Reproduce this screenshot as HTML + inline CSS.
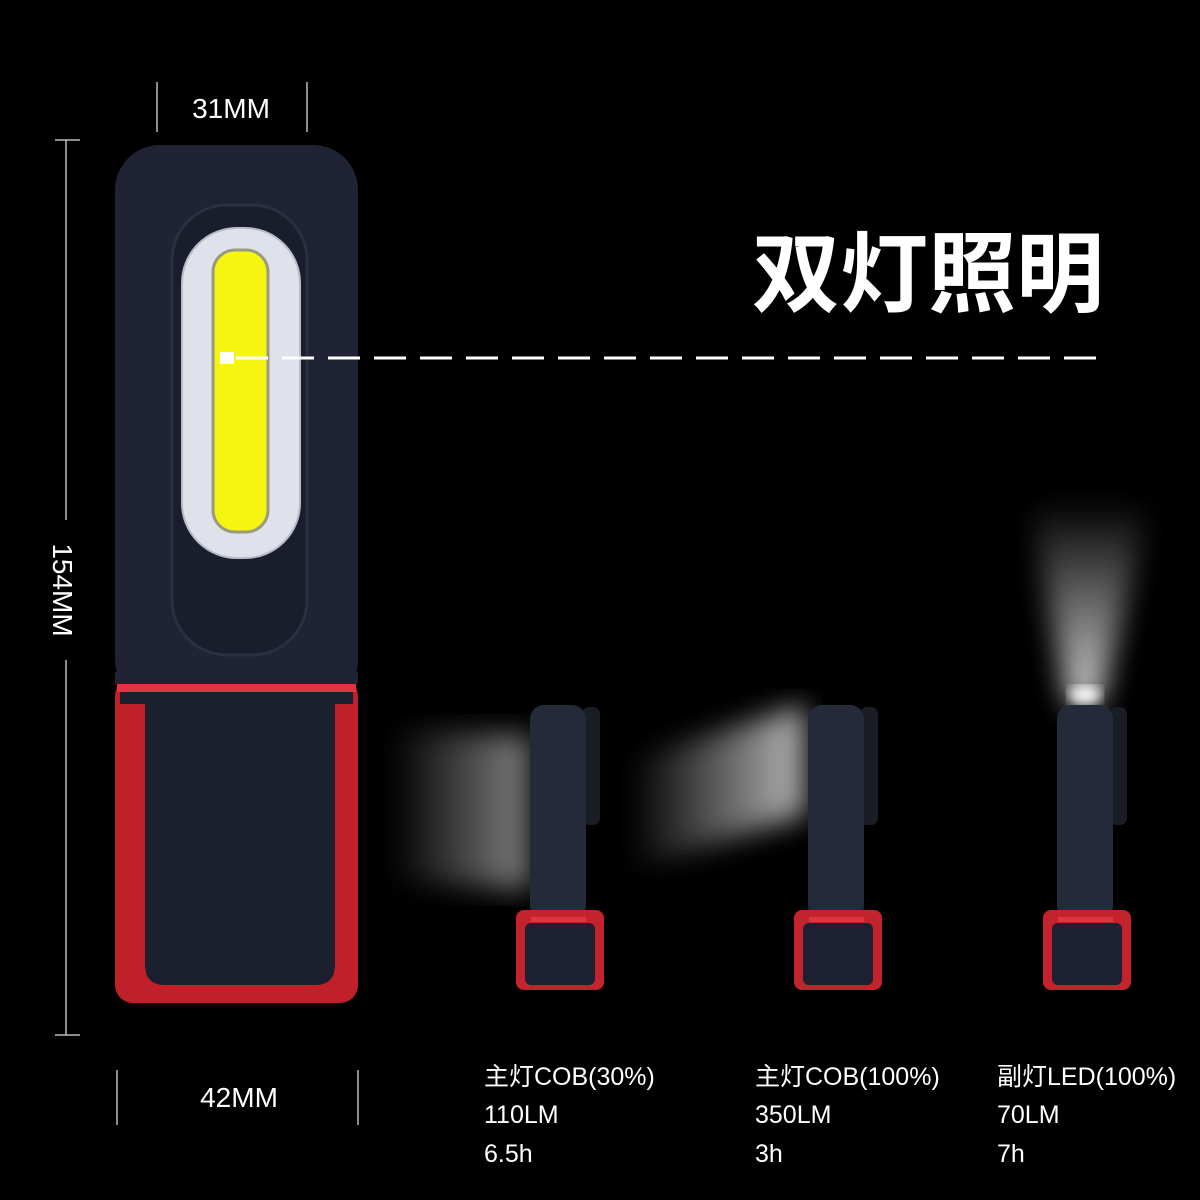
<!DOCTYPE html>
<html><head><meta charset="utf-8"><style>
html,body{margin:0;padding:0;background:#000;}
svg{display:block}
text{font-family:"Liberation Sans","Noto Sans CJK SC",sans-serif;fill:#fff}
</style></head><body>
<svg width="1200" height="1200" viewBox="0 0 1200 1200" xmlns="http://www.w3.org/2000/svg">
<defs>
<linearGradient id="b1" x1="1" y1="0" x2="0" y2="0">
<stop offset="0" stop-color="#fff" stop-opacity="0.85"/><stop offset="1" stop-color="#fff" stop-opacity="0"/></linearGradient>
<linearGradient id="b3" x1="0" y1="1" x2="0" y2="0">
<stop offset="0" stop-color="#fff" stop-opacity="0.9"/><stop offset="1" stop-color="#fff" stop-opacity="0"/></linearGradient>
<filter id="bl"><feGaussianBlur stdDeviation="14"/></filter>
<filter id="bl2"><feGaussianBlur stdDeviation="6"/></filter>
<g id="small">
<rect x="52" y="2" width="18" height="118" rx="7" fill="#1a1c26"/>
<rect x="0" y="0" width="56" height="215" rx="14" fill="#252a3a"/>
<rect x="-14" y="205" width="88" height="80" rx="8" fill="#c3232c"/>
<rect x="-5" y="218" width="70" height="62" rx="6" fill="#1d2030"/>
<rect x="1" y="212" width="55" height="5" fill="#e03540"/>
</g>
</defs>
<!-- beams -->
<polygon points="390,730 530,735 530,890 390,880" fill="url(#b1)" filter="url(#bl)" opacity="0.6"/>
<polygon points="630,760 805,705 805,815 630,870" fill="url(#b1)" filter="url(#bl)" opacity="0.85"/>
<polygon points="1068,705 1100,705 1150,500 1030,500" fill="url(#b3)" filter="url(#bl)" opacity="0.9"/>
<ellipse cx="1085" cy="695" rx="16" ry="9" fill="#fff" filter="url(#bl2)"/>

<!-- dimensions -->
<g stroke="#bbb" stroke-width="1.5">
<line x1="157" y1="82" x2="157" y2="132"/><line x1="307" y1="82" x2="307" y2="132"/>
<line x1="55" y1="140" x2="80" y2="140"/><line x1="55" y1="1035" x2="80" y2="1035"/>
<line x1="66" y1="140" x2="66" y2="520"/><line x1="66" y1="660" x2="66" y2="1035"/>
<line x1="117" y1="1070" x2="117" y2="1125"/><line x1="358" y1="1070" x2="358" y2="1125"/>
</g>
<text x="231" y="118" font-size="28" text-anchor="middle">31MM</text>
<text x="239" y="1107" font-size="28" text-anchor="middle">42MM</text>
<text transform="translate(53,590) rotate(90)" font-size="28" text-anchor="middle">154MM</text>

<!-- main light -->
<rect x="115" y="145" width="243" height="560" rx="45" fill="#1f2333"/>
<rect x="172" y="205" width="135" height="450" rx="55" fill="#1a1d2b" stroke="#2a2f42" stroke-width="3"/>
<rect x="115" y="678" width="243" height="325" rx="18" fill="#c0202a"/>
<rect x="115" y="672" width="243" height="12" fill="#1f2333"/>
<rect x="117" y="684" width="239" height="8" fill="#e23440"/>
<path d="M145,700 H335 V965 Q335,985 315,985 H165 Q145,985 145,965 Z" fill="#1c1f2e"/>
<rect x="120" y="692" width="233" height="12" fill="#1c1f2e"/>
<rect x="182" y="228" width="118" height="330" rx="55" fill="#dfe2ea" stroke="#b8bcc8" stroke-width="2"/>
<rect x="213" y="250" width="55" height="282" rx="22" fill="#f5f510" stroke="#9a9a80" stroke-width="3"/>

<!-- dashed line -->
<rect x="220" y="352" width="14" height="12" fill="#fff"/>
<line x1="236" y1="358" x2="1102" y2="358" stroke="#fff" stroke-width="3" stroke-dasharray="32,14"/>
<text x="752" y="305" font-size="88" font-weight="bold">双灯照明</text>

<!-- small lights -->
<use href="#small" x="530" y="705"/>
<use href="#small" x="808" y="705"/>
<use href="#small" x="1057" y="705"/>

<g font-size="25">
<text x="484" y="1085">主灯COB(30%)</text><text x="484" y="1123">110LM</text><text x="484" y="1162">6.5h</text>
<text x="755" y="1085">主灯COB(100%)</text><text x="755" y="1123">350LM</text><text x="755" y="1162">3h</text>
<text x="997" y="1085">副灯LED(100%)</text><text x="997" y="1123">70LM</text><text x="997" y="1162">7h</text>
</g>
</svg>
</body></html>
